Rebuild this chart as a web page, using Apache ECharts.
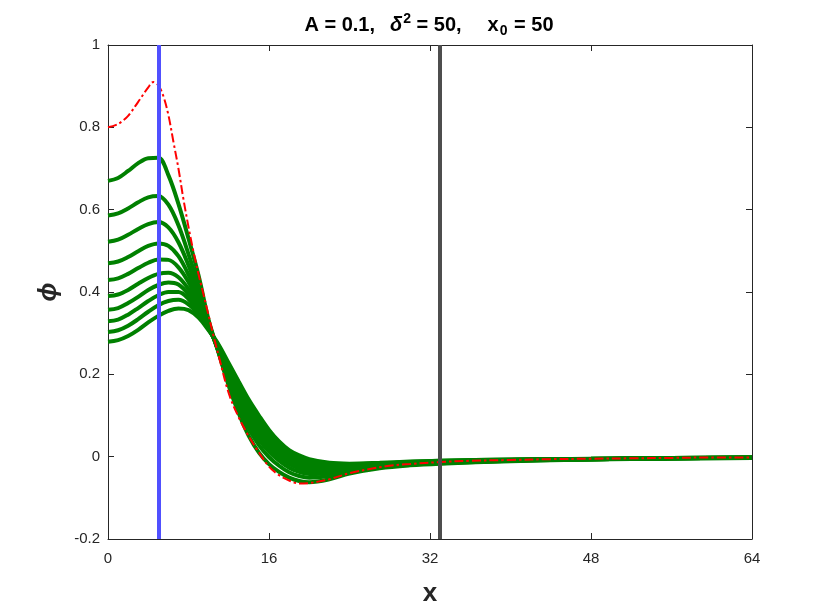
<!DOCTYPE html>
<html>
<head>
<meta charset="utf-8">
<script src="https://cdn.jsdelivr.net/npm/echarts@6/dist/echarts.min.js"></script>
<style>
html,body{margin:0;padding:0;background:#fff;}
#chart{width:830px;height:609px;}
</style>
</head>
<body>
<div id="chart"></div>
<script>
// ---- data ----
const xTicks = [0, 16, 32, 48, 64];
const yTicks = [-0.2, 0, 0.2, 0.4, 0.6, 0.8, 1];
const vlineBlueX = 5;
const vlineGrayX = 33;

const greenX = [0,1,2,3,4,5,6,7,8,9,10,11,12,13,14,15,16,17,18,19,20,22,24,27,30,33,40,48,56,64];
const green1  = [0.670,0.677,0.694,0.713,0.725,0.726,0.684,0.614,0.530,0.440,0.332,0.252,0.172,0.105,0.050,0.010,-0.018,-0.037,-0.051,-0.059,-0.062,-0.055,-0.041,-0.028,-0.021,-0.017,-0.011,-0.007,-0.005,-0.003];
const green2  = [0.586,0.591,0.603,0.618,0.630,0.633,0.612,0.562,0.492,0.415,0.327,0.253,0.178,0.120,0.068,0.028,-0.001,-0.022,-0.038,-0.047,-0.051,-0.047,-0.036,-0.025,-0.019,-0.016,-0.010,-0.006,-0.004,-0.003];
const green3  = [0.522,0.527,0.539,0.553,0.565,0.570,0.557,0.521,0.465,0.398,0.323,0.254,0.183,0.133,0.082,0.042,0.012,-0.010,-0.027,-0.037,-0.042,-0.041,-0.032,-0.023,-0.018,-0.014,-0.010,-0.006,-0.004,-0.003];
const green4  = [0.470,0.474,0.485,0.499,0.512,0.518,0.512,0.487,0.442,0.385,0.320,0.256,0.189,0.143,0.093,0.054,0.023,-0.001,-0.018,-0.029,-0.035,-0.035,-0.029,-0.022,-0.017,-0.014,-0.009,-0.006,-0.004,-0.003];
const green5  = [0.429,0.433,0.444,0.458,0.471,0.479,0.478,0.460,0.424,0.374,0.317,0.258,0.195,0.151,0.103,0.064,0.032,0.007,-0.011,-0.022,-0.028,-0.031,-0.027,-0.020,-0.016,-0.013,-0.009,-0.006,-0.004,-0.002];
const green6  = [0.390,0.394,0.405,0.420,0.434,0.444,0.447,0.436,0.407,0.364,0.315,0.261,0.202,0.159,0.112,0.073,0.040,0.015,-0.004,-0.016,-0.023,-0.027,-0.024,-0.019,-0.015,-0.012,-0.008,-0.006,-0.004,-0.002];
const green7  = [0.357,0.361,0.373,0.388,0.405,0.417,0.423,0.418,0.394,0.357,0.313,0.264,0.208,0.165,0.119,0.080,0.047,0.021,0.001,-0.011,-0.018,-0.024,-0.022,-0.018,-0.014,-0.012,-0.008,-0.006,-0.004,-0.002];
const green8  = [0.329,0.333,0.345,0.361,0.378,0.392,0.400,0.400,0.383,0.351,0.311,0.266,0.214,0.171,0.126,0.087,0.053,0.027,0.007,-0.006,-0.014,-0.021,-0.020,-0.017,-0.013,-0.011,-0.008,-0.005,-0.003,-0.002];
const green9  = [0.303,0.307,0.318,0.334,0.352,0.368,0.378,0.381,0.370,0.345,0.309,0.269,0.220,0.177,0.132,0.094,0.059,0.032,0.011,-0.001,-0.010,-0.018,-0.019,-0.016,-0.013,-0.010,-0.007,-0.005,-0.003,-0.002];
const green10 = [0.279,0.283,0.293,0.308,0.326,0.342,0.354,0.360,0.356,0.338,0.307,0.272,0.227,0.182,0.138,0.100,0.065,0.037,0.016,0.003,-0.006,-0.015,-0.017,-0.015,-0.012,-0.010,-0.007,-0.005,-0.003,-0.002];
const greenCurves = [green1, green2, green3, green4, green5, green6, green7, green8, green9, green10];

const redX = [0,1,2,3,4,4.5,5,5.5,6,6.5,7,7.5,8,8.5,9,9.5,10,10.5,11,12,13,14,15,16,17,18,19,20,21,22,24,26,28,30,33,36,40,44,48,52,56,60,64];
const redY = [0.800,0.808,0.828,0.862,0.897,0.910,0.902,0.876,0.830,0.765,0.700,0.625,0.558,0.497,0.443,0.393,0.343,0.292,0.245,0.154,0.095,0.049,0.010,-0.024,-0.045,-0.058,-0.065,-0.064,-0.060,-0.055,-0.040,-0.030,-0.022,-0.018,-0.013,-0.010,-0.008,-0.006,-0.005,-0.004,-0.003,-0.002,-0.002];

// ---- chart ----
const FONT = '"Liberation Sans", Arial, Helvetica, sans-serif';
const AX = '#262626';
const chart = echarts.init(document.getElementById('chart'), null, {renderer: 'canvas'});

const pair = (xs, ys) => xs.map((x, i) => [x, ys[i]]);
const fmtY = v => String(+Number(v).toFixed(1));

const series = greenCurves.map((c, i) => ({
  type: 'line', name: 'g' + i, data: pair(greenX, c), smooth: 0.35,
  showSymbol: false, symbol: 'none', z: 2,
  lineStyle: {color: '#008000', width: 4}, emphasis: {disabled: true}, silent: true
}));
series.push({
  type: 'line', name: 'red', data: pair(redX, redY), smooth: 0.35,
  showSymbol: false, symbol: 'none', z: 3,
  lineStyle: {color: '#ff0000', width: 2, type: [9, 3, 2.5, 3]}, silent: true
});
series.push({
  type: 'line', name: 'vlines', data: [], z: 4, silent: true,
  markLine: {
    symbol: ['none', 'none'], silent: true, animation: false,
    label: {show: false},
    data: [
      {xAxis: vlineBlueX, lineStyle: {color: '#5050ff', width: 4, type: 'solid'}},
      {xAxis: vlineGrayX, lineStyle: {color: '#4d4d4d', width: 4, type: 'solid'}}
    ]
  }
});

const xBase = {
  type: 'value', min: xTicks[0], max: xTicks[xTicks.length - 1], interval: xTicks[1] - xTicks[0],
  splitLine: {show: false},
  axisLine: {show: true, onZero: false, lineStyle: {color: AX, width: 1}},
  axisTick: {show: true, inside: true, length: 6, lineStyle: {color: AX}}
};
const yBase = {
  type: 'value', min: yTicks[0], max: yTicks[yTicks.length - 1], interval: 0.2,
  splitLine: {show: false},
  axisLine: {show: true, onZero: false, lineStyle: {color: AX, width: 1}},
  axisTick: {show: true, inside: true, length: 6, lineStyle: {color: AX}}
};

const T = {fontFamily: FONT, fontSize: 20, fontWeight: 'bold', color: '#000'};
chart.setOption({
  animation: false,
  backgroundColor: '#ffffff',
  title: {
    left: 424, top: 7, textAlign: 'center',
    text: '{a|A = 0.1,}{g1| }{d|δ}{sup|2}{a| = 50,}{g2| }{a|x}{sub|0}{a| = 50}',
    textStyle: {
      fontFamily: FONT, fontSize: 20, fontWeight: 'bold', color: '#000',
      rich: {
        a: T,
        g1: Object.assign({}, T, {width: 15}),
        g2: Object.assign({}, T, {width: 26}),
        d: Object.assign({}, T, {fontStyle: 'italic'}),
        sup: Object.assign({}, T, {fontSize: 14, padding: [0, 0, 12, 1]}),
        sub: Object.assign({}, T, {fontSize: 14, padding: [12, 1, 0, 1]})
      }
    }
  },
  grid: {left: 108, right: 78, top: 45, bottom: 70, containLabel: false, outerBoundsMode: 'none'},
  xAxis: [
    Object.assign({}, xBase, {
      position: 'bottom',
      name: 'x', nameLocation: 'middle', nameGap: 42,
      nameTextStyle: {fontFamily: FONT, fontSize: 26, fontWeight: 'bold', color: '#262626'},
      axisLabel: {show: true, margin: 12, fontFamily: FONT, fontSize: 15, color: AX}
    }),
    Object.assign({}, xBase, {position: 'top', axisLabel: {show: false}})
  ],
  yAxis: [
    Object.assign({}, yBase, {
      position: 'left',
      name: 'ϕ', nameLocation: 'middle', nameGap: 46, nameRotate: 90,
      nameTextStyle: {fontFamily: FONT, fontSize: 25, fontWeight: 'bold', fontStyle: 'italic', color: '#262626'},
      axisLabel: {show: true, margin: 8, fontFamily: FONT, fontSize: 15, color: AX, formatter: fmtY}
    }),
    Object.assign({}, yBase, {position: 'right', axisLabel: {show: false}})
  ],
  series: series
});
</script>
</body>
</html>
